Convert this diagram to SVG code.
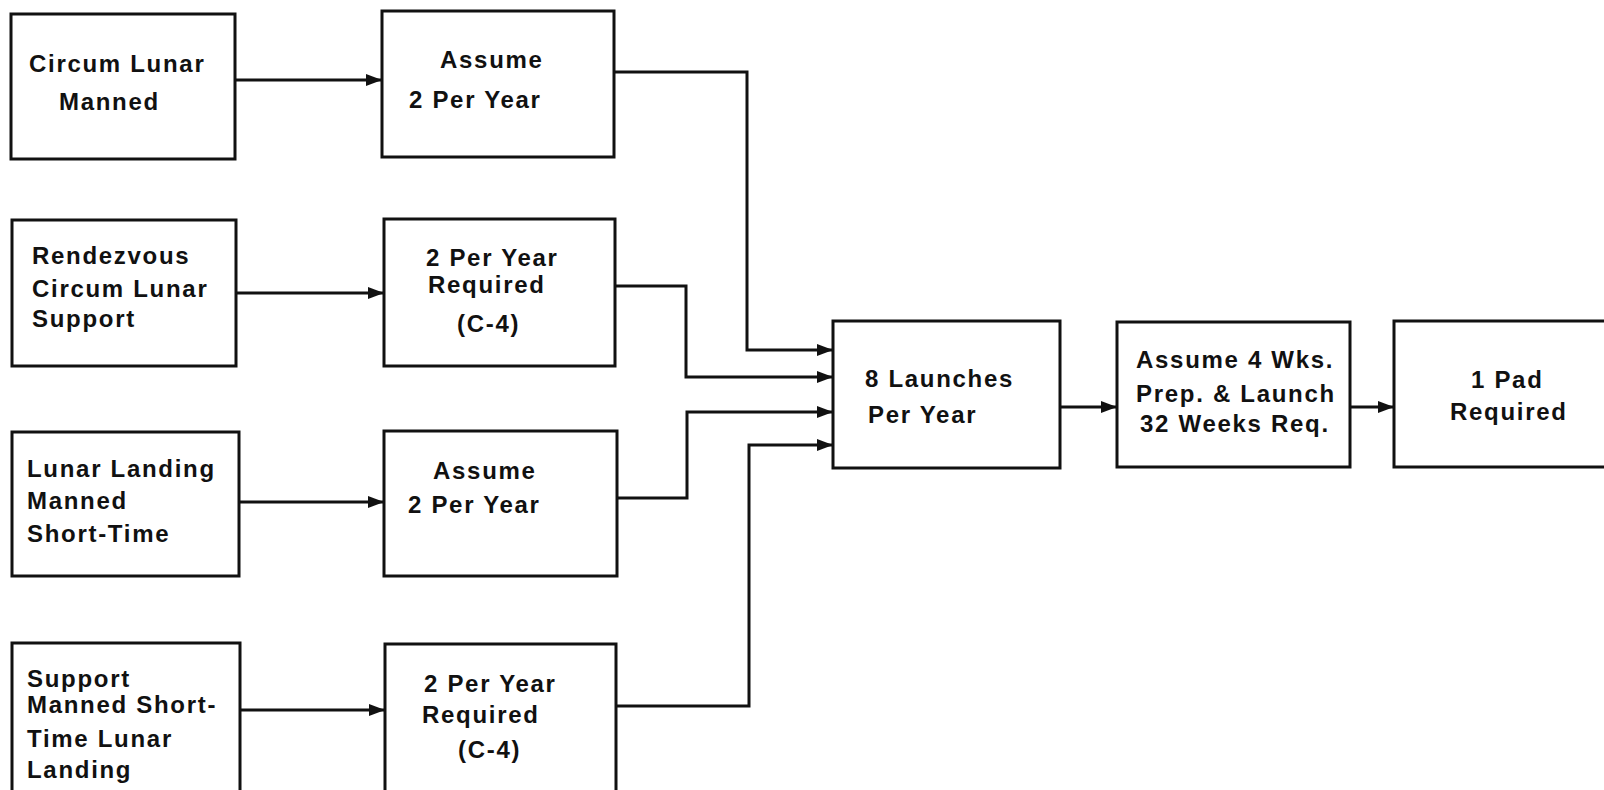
<svg xmlns="http://www.w3.org/2000/svg" width="1604" height="790" viewBox="0 0 1604 790">
<style>
.box{fill:#fff;stroke:#111;stroke-width:3}
.lbl{font-family:"Liberation Sans",Arial,sans-serif;font-weight:bold;font-size:24px;letter-spacing:1.7px;fill:#111}
.con{fill:none;stroke:#111;stroke-width:3}
</style>
<defs>
<marker id="arr" markerUnits="userSpaceOnUse" viewBox="0 0 16 12" refX="16" refY="6" markerWidth="16" markerHeight="12" orient="auto">
<path d="M0,0 L16,6 L0,12 z" fill="#111"/>
</marker>
</defs>
<rect width="1604" height="790" fill="#fff"/>
<g id="connectors">
<path class="con" d="M235,80 H382" marker-end="url(#arr)"/>
<path class="con" d="M236,293 H384" marker-end="url(#arr)"/>
<path class="con" d="M239,502 H384" marker-end="url(#arr)"/>
<path class="con" d="M240,710 H385" marker-end="url(#arr)"/>
<path class="con" d="M614,72 H747 V350 H833" marker-end="url(#arr)"/>
<path class="con" d="M615,286 H686 V377 H833" marker-end="url(#arr)"/>
<path class="con" d="M617,498 H687 V412 H833" marker-end="url(#arr)"/>
<path class="con" d="M616,706 H749 V445 H833" marker-end="url(#arr)"/>
<path class="con" d="M1060,407 H1117" marker-end="url(#arr)"/>
<path class="con" d="M1350,407 H1394" marker-end="url(#arr)"/>
</g>
<g id="n_circum">
<rect class="box" x="11" y="14" width="224" height="145"/>
<text class="lbl" x="29" y="72">Circum Lunar</text>
<text class="lbl" x="59" y="110">Manned</text>
</g>
<g id="n_assume1">
<rect class="box" x="382" y="11" width="232" height="146"/>
<text class="lbl" x="440" y="68">Assume</text>
<text class="lbl" x="409" y="108">2 Per Year</text>
</g>
<g id="n_rendezvous">
<rect class="box" x="12" y="220" width="224" height="146"/>
<text class="lbl" x="32" y="264">Rendezvous</text>
<text class="lbl" x="32" y="297">Circum Lunar</text>
<text class="lbl" x="32" y="327">Support</text>
</g>
<g id="n_req1">
<rect class="box" x="384" y="219" width="231" height="147"/>
<text class="lbl" x="426" y="266">2 Per Year</text>
<text class="lbl" x="428" y="293">Required</text>
<text class="lbl" x="457" y="332">(C-4)</text>
</g>
<g id="n_landing">
<rect class="box" x="12" y="432" width="227" height="144"/>
<text class="lbl" x="27" y="477">Lunar Landing</text>
<text class="lbl" x="27" y="509">Manned</text>
<text class="lbl" x="27" y="542">Short-Time</text>
</g>
<g id="n_assume2">
<rect class="box" x="384" y="431" width="233" height="145"/>
<text class="lbl" x="433" y="479">Assume</text>
<text class="lbl" x="408" y="513">2 Per Year</text>
</g>
<g id="n_support">
<rect class="box" x="12" y="643" width="228" height="160"/>
<text class="lbl" x="27" y="687">Support</text>
<text class="lbl" x="27" y="713">Manned Short-</text>
<text class="lbl" x="27" y="747">Time Lunar</text>
<text class="lbl" x="27" y="778">Landing</text>
</g>
<g id="n_req2">
<rect class="box" x="385" y="644" width="231" height="160"/>
<text class="lbl" x="424" y="692">2 Per Year</text>
<text class="lbl" x="422" y="723">Required</text>
<text class="lbl" x="458" y="758">(C-4)</text>
</g>
<g id="n_launches">
<rect class="box" x="833" y="321" width="227" height="147"/>
<text class="lbl" x="865" y="387">8 Launches</text>
<text class="lbl" x="868" y="423">Per Year</text>
</g>
<g id="n_prep">
<rect class="box" x="1117" y="322" width="233" height="145"/>
<text class="lbl" x="1136" y="368">Assume 4 Wks.</text>
<text class="lbl" x="1136" y="402">Prep. &amp; Launch</text>
<text class="lbl" x="1140" y="432">32 Weeks Req.</text>
</g>
<g id="n_pad">
<rect class="box" x="1394" y="321" width="220" height="146"/>
<text class="lbl" x="1471" y="388">1 Pad</text>
<text class="lbl" x="1450" y="420">Required</text>
</g>
</svg>
